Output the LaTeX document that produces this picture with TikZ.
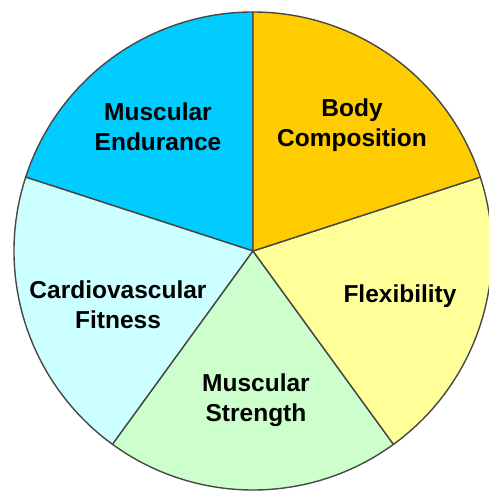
\documentclass[tikz,border=0pt]{standalone}
\usepackage{fontspec}
\setmainfont{Liberation Sans}
\usepackage{tikz}
\usetikzlibrary{positioning}
\definecolor{endurcol}{RGB}{0,204,255}
\definecolor{bodycol}{RGB}{255,204,0}
\definecolor{flexcol}{RGB}{255,255,153}
\definecolor{strengthcol}{RGB}{204,255,204}
\definecolor{cardiocol}{RGB}{204,255,255}
\newcommand{\pieR}{239}

\begin{document}
\begin{tikzpicture}[x=1pt, y=1pt,
    slice/.style={draw=black!72, line width=1.4pt, line join=round},
    lbl/.style={font=\bfseries\fontsize{24.5}{30}\selectfont, align=center, text=black}
  ]

  %% Frame of the picture
  \useasboundingbox[fill=white] (0,0) rectangle (489,493);
  \clip (0,0) rectangle (489,493);
  \coordinate (c) at (253,242);

  %% Slices (start angle / end angle / colour)
  \foreach \a/\b/\col in {90/162/endurcol, 162/234/cardiocol, 234/306/strengthcol,
                          306/378/flexcol, 18/90/bodycol}{
    \filldraw[slice, fill=\col] (c) -- ++(\a:\pieR)
      arc[start angle=\a, end angle=\b, radius=\pieR] -- cycle;
  }

  %% Labels
  \node[lbl] (endurance) at (158,366) {Muscular\\Endurance};
  \node[lbl] (body) at (352,368) {Body\\Composition};
  \node[lbl] (flex) at (400,197) {Flexibility};
  \node[lbl] (cardio) at (118,188) {Cardiovascular\\Fitness};
  \node[lbl] (strength) at (256,93) {Muscular\\Strength};

\end{tikzpicture}
\end{document}
